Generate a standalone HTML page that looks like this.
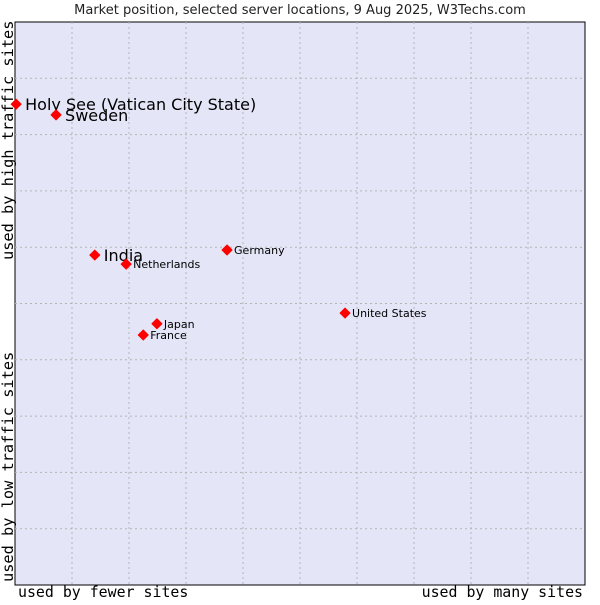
<!DOCTYPE html>
<html><head><meta charset="utf-8"><style>
body{margin:0;background:#fff;}
svg text{font-family:"DejaVu Sans","Liberation Sans",sans-serif;}
.ax{font-family:'DejaVu Sans Mono','Liberation Mono',monospace;font-size:15.3px;}
.axh{font-family:'DejaVu Sans Mono','Liberation Mono',monospace;font-size:14.9px;}
</style></head><body>
<svg id="c" width="600" height="600" xmlns="http://www.w3.org/2000/svg">
<text x="300" y="14" text-anchor="middle" font-size="13" fill="#222">Market position, selected server locations, 9 Aug 2025, W3Techs.com</text>
<rect x="15" y="22" width="570" height="563" fill="#e4e6f8" stroke="#000" stroke-width="1"/>
<g id="grid"></g>
<g id="pts"></g>
<text x="18" y="597" class="axh">used by fewer sites</text>
<text x="583" y="597" text-anchor="end" class="axh">used by many sites</text>
<text transform="translate(13,260) rotate(-90)" class="ax">used by high traffic sites</text>
<text transform="translate(13,582) rotate(-90)" class="ax">used by low traffic sites</text>
</svg>
<script>
const names=["Holy See (Vatican City State)","Sweden","India","Netherlands","Germany","United States","Japan","France"];
const xs=[0.2,7.2,14.0,19.5,37.2,57.9,24.9,22.5];
const ys=[85.4,83.5,58.6,57.0,59.5,48.3,46.4,44.4];
const big=[1,1,1,0,0,0,0,0];
const L=15,T=22,W=570,H=563;
const sx=v=>L+v/100*W, sy=v=>T+H-v/100*H;
const NS="http://www.w3.org/2000/svg";
const g=document.getElementById('grid');
for(let i=1;i<10;i++){
 const a=document.createElementNS(NS,'line');
 a.setAttribute('x1',sx(i*10));a.setAttribute('x2',sx(i*10));a.setAttribute('y1',T);a.setAttribute('y2',T+H);
 a.setAttribute('stroke','#b4b4b4');a.setAttribute('stroke-dasharray','2,3');
 
 
 g.appendChild(a);
 const b=document.createElementNS(NS,'line');
 b.setAttribute('y1',sy(i*10));b.setAttribute('y2',sy(i*10));b.setAttribute('x1',L);b.setAttribute('x2',L+W);
 b.setAttribute('stroke','#b4b4b4');b.setAttribute('stroke-dasharray','2,3');
 
 
 g.appendChild(b);
}
const p=document.getElementById('pts');
names.forEach((n,i)=>{
 const x=sx(xs[i]),y=sy(ys[i]);
 const d=document.createElementNS(NS,'polygon');
 d.setAttribute('points',`${x},${y-5} ${x+5},${y} ${x},${y+5} ${x-5},${y}`);
 d.setAttribute('fill','#f00');
 d.setAttribute('stroke','#f00');
 d.setAttribute('stroke-width','1');
 d.setAttribute('stroke-linejoin','round');
 
 
 p.appendChild(d);
 const t=document.createElementNS(NS,'text');
 t.setAttribute('x',x+(big[i]?9:7));t.setAttribute('y',y+(big[i]?6:4));
 t.setAttribute('font-size',big[i]?16:11);t.setAttribute('fill','#000');
 t.textContent=n;
 
 
 p.appendChild(t);
});
</script>
</body></html>
